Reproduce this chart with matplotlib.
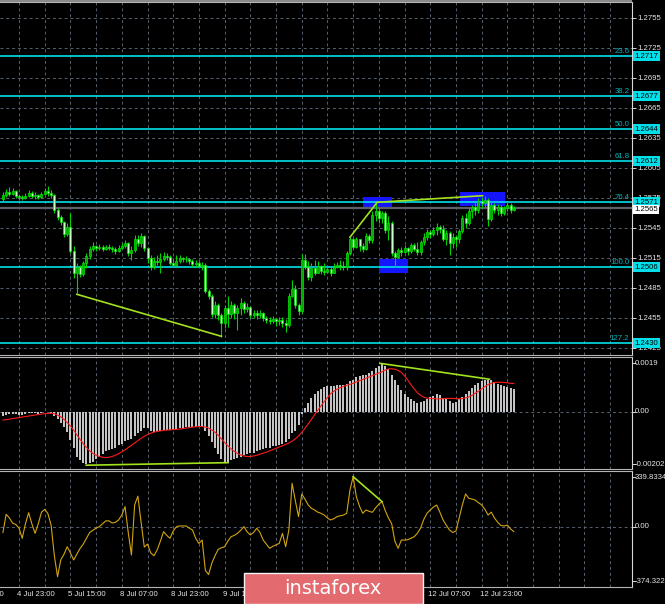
import matplotlib
matplotlib.use('Agg')
import matplotlib.pyplot as plt
import matplotlib.transforms as mtransforms
from matplotlib.patches import Rectangle
import numpy as np

BASE = 1.2400   # les prix sont notés en pips au-dessus de 1.2400

# bougies H1 (pips au-dessus de BASE)
opens = [174,178,181,179,182,177,176,175,177,180, 177,178,176,179,182,180,178,163,156,151,
         139,146,122,100,106,99,110,117,124,127, 125,126,124,126,125,124,122,125,127,130,
         120,123,134,130,137,125,115,106,112,111, 114,117,116,110,108,112,115,114,114,112,
         109,110,107,108,82,77,59,68,58,50, 65,59,68,60,65,70,64,66,58,60,
         58,60,55,53,52,54,52,53,50,48, 77,84,68,62,113,106,96,105,100,107,
         102,101,104,100,106,108,107,106,120,134, 126,134,127,124,137,133,158,162,155,160,
         143,150,120,116,123,121,125,122,128,124, 121,131,136,141,139,143,146,144,134,140,
         130,136,134,142,155,150,162,166,163,172, 170,173,154,168,163,166,160,165,168,163]
closes = [178,181,179,182,177,176,175,177,180,177, 178,176,179,182,180,178,163,156,151,139,
          146,122,100,106,99,110,117,124,127,125, 126,124,126,125,124,122,125,127,130,120,
          123,134,130,137,125,115,106,112,111,114, 117,116,110,108,112,115,114,114,112,109,
          110,107,108,82,77,59,68,58,50,65, 59,68,60,65,70,64,66,58,60,58,
          60,55,53,52,54,52,53,50,48,77, 84,68,62,113,106,96,105,100,107,102,
          101,104,100,106,108,107,106,120,134,126, 134,127,124,137,133,158,162,155,160,143,
          150,120,116,123,121,125,122,128,124,121, 131,136,141,139,143,146,144,134,140,130,
          136,134,142,155,150,162,166,163,172,170, 173,154,168,163,166,160,165,168,163,165]
highs = [181,184,186,185,183,179,178,180,183,182, 181,179,181,185,187,183,179,165,158,152,
         150,160,127,110,108,112,120,127,131,128, 129,128,128,129,127,126,128,130,133,131,
         127,138,138,140,138,126,118,116,118,120, 121,120,118,115,118,118,116,117,115,114,
         113,112,111,110,84,79,72,70,60,68, 77,72,70,68,75,72,70,67,63,63,
         63,61,57,56,57,55,56,56,54,80, 93,88,70,119,119,112,110,113,112,108,
         110,107,106,110,111,113,112,122,136,135, 136,134,130,140,139,162,171,165,162,162,
         157,152,122,125,126,128,126,130,130,131, 133,140,144,143,146,150,148,148,143,142,
         140,138,144,158,160,165,168,170,175,176, 177,175,172,170,169,168,167,172,170,167]
lows = [172,176,177,178,175,173,173,174,176,175, 174,174,175,178,177,175,160,153,148,136,
        137,120,95,80,96,97,105,114,122,122, 123,122,123,123,121,119,121,124,125,117,
        113,121,127,126,122,110,103,104,108,100, 112,113,108,106,107,110,111,111,109,106,
        106,105,103,80,74,56,55,53,36,45, 46,55,54,43,58,60,61,55,55,54,
        55,52,50,49,50,47,48,46,41,46, 76,65,58,60,104,93,92,98,100,99,
        98,100,97,100,105,103,103,103,118,124, 125,122,121,123,130,130,152,150,150,140,
        133,117,106,115,117,120,118,120,122,118, 118,128,133,135,137,138,140,132,128,118,
        125,126,130,140,145,148,155,158,160,165, 166,147,152,160,158,157,158,162,160,162]

# MACD (unités de 0.0001)
macd_hist = [-1.5,-1.2,-1.0,-0.8,-1.0,-1.2,-1.1,-0.9,-0.6,-0.7, -0.6,-0.8,-0.6,-0.3,-0.2,-0.4,-1.5,-3.0,-4.5,-6.0,
             -8.0,-11.0,-14.0,-17.5,-19.0,-20.0,-20.5,-20.0,-19.5,-18.5, -17.5,-16.5,-15.5,-15.0,-14.5,-14.0,-13.0,-12.5,-11.5,-11.0,
             -10.5,-9.5,-8.5,-7.5,-6.5,-6.5,-7.5,-8.0,-7.5,-7.5, -7.2,-7.0,-7.0,-7.0,-6.8,-6.5,-6.3,-6.0,-6.0,-5.8,
             -5.8,-5.6,-6.0,-7.5,-9.5,-12.0,-14.0,-16.5,-18.5,-19.5, -19.5,-19.0,-18.5,-18.0,-17.5,-17.0,-16.5,-16.0,-16.0,-15.5,
             -15.0,-14.5,-14.0,-14.0,-13.5,-13.5,-13.0,-12.5,-12.0,-10.5, -8.5,-7.5,-5.0,-1.0,1.5,3.5,5.5,7.0,8.0,9.0,
             9.5,10.0,10.0,10.0,10.5,10.5,10.5,11.0,12.0,12.5, 13.5,14.0,14.5,14.5,15.0,16.0,17.0,18.0,19.0,18.0,
             16.5,14.5,12.5,10.5,8.5,7.0,5.8,5.0,4.0,3.5, 3.6,4.2,5.0,5.6,6.1,6.8,6.5,5.5,4.8,4.2,
             3.5,3.8,4.8,5.9,6.8,8.1,9.1,10.4,11.3,12.0, 12.4,12.4,12.2,11.6,11.0,10.4,10.0,9.5,9.1,8.7]
macd_signal = [-3.3,-3.1,-2.9,-2.7,-2.5,-2.3,-2.1,-1.9,-1.7,-1.5, -1.3,-1.1,-0.9,-0.8,-0.7,-0.6,-0.8,-1.3,-2.0,-3.0,
               -4.2,-5.6,-7.2,-9.0,-10.8,-12.5,-14.0,-15.3,-16.3,-17.0, -17.5,-17.8,-17.9,-17.8,-17.5,-17.0,-16.4,-15.7,-14.9,-14.0,
               -13.1,-12.2,-11.3,-10.4,-9.6,-8.9,-8.4,-8.0,-7.7,-7.5, -7.3,-7.2,-7.1,-7.0,-6.9,-6.8,-6.6,-6.4,-6.2,-6.0,
               -5.9,-5.8,-5.8,-6.0,-6.4,-7.1,-8.0,-9.2,-10.6,-12.0, -13.3,-14.5,-15.5,-16.3,-16.9,-17.3,-17.5,-17.5,-17.3,-17.0,
               -16.6,-16.2,-15.8,-15.3,-14.8,-14.3,-13.8,-13.3,-12.8,-12.2, -11.5,-10.6,-9.5,-8.1,-6.5,-4.8,-3.0,-1.2,0.6,2.3,
               4.0,5.5,7.0,8.0,8.8,9.4,9.9,10.3,10.7,11.1, 11.6,12.1,12.6,13.1,13.6,14.1,14.6,15.1,15.6,16.3,
               16.7,16.8,16.6,16.1,15.4,14.0,12.4,10.6,8.9,7.4, 6.4,5.7,5.3,5.2,5.1,5.0,5.0,5.1,5.2,5.2,
               5.2,5.1,5.0,5.2,5.4,5.8,6.4,7.2,8.0,8.9, 9.8,10.6,11.1,11.4,11.5,11.5,11.4,11.3,11.1,11.0]

# CCI
cci = [-40,85,60,25,15,-10,-80,20,96,20, -46,20,100,119,90,10,-200,-344,-229,-190,
       -138,-180,-229,-190,-150,-120,-80,-40,-25,-10, 0,20,40,40,25,30,46,80,138,-40,
       -195,150,210,30,-140,-120,-180,-200,-160,-100, -34,-60,-80,-30,0,5,5,5,-10,-23,
       -80,-115,-92,-300,-330,-252,-200,-156,-145,-138, -100,-69,-60,-46,-25,0,-35,-57,-40,-11,
       -40,-92,-120,-149,-135,-125,-115,-46,-138,-23, 298,180,69,225,190,150,126,115,100,92,
       80,60,46,55,69,75,80,92,250,344, 206,140,92,115,105,99,130,155,172,110,
       60,20,-100,-149,-92,-92,-90,-80,-69,-45, -10,50,92,115,135,149,100,46,10,-23,
       -40,-30,60,150,225,195,190,183,165,150, 120,80,100,60,30,8,5,11,-15,-34]

time_labels = ['4 Jul 07:00', '4 Jul 23:00', '5 Jul 15:00', '8 Jul 07:00', '8 Jul 23:00', '9 Jul 15:00',
               '10 Jul 07:00', '10 Jul 23:00', '11 Jul 15:00', '12 Jul 07:00', '12 Jul 23:00']
label_bars = [-11, 5, 21, 37, 53, 69, 85, 101, 117, 133, 149]

price_ticks = [1.2755, 1.2725, 1.2695, 1.2665, 1.2635, 1.2605, 1.2575, 1.2545, 1.2515, 1.2485, 1.2455, 1.2425]
fib_names = ['23.6', '38.2', '50.0', '61.8', '76.4', '100.0', '127.2']
fib_prices = [1.2717, 1.2677, 1.2644, 1.2612, 1.2571, 1.2506, 1.2430]
bid = 1.2565

# lignes de divergence (barre, valeur)
div_price1 = ([23, 68], [79, 37])
div_price2 = ([108, 116.5, 149.3], [136, 171, 177.6])
div_macd1 = ([25.9, 70.1], [-20.9, -19.9])
div_macd2 = ([117.4, 151.4], [18.9, 12.7])
div_cci = ([109, 118], [344, 172])
# zones bleues (barre début, barre fin, pips bas, pips haut)
zones = [(112.2, 121.0, 164.6, 176), (117.2, 126.0, 100, 114), (142.3, 156.3, 167.6, 181)]

W, H = 665, 604
BG = 'black'
GRID = '#56626e'
TXT = '#e6e6e6'
CYAN = '#00e0ea'
GREENLINE = '#a2e21c'
FS = 5.6
plt.rcParams['font.family'] = ['Liberation Sans', 'DejaVu Sans']

fig = plt.figure(figsize=(W / 100, H / 100), dpi=100, facecolor=BG)

def box(x0, y0, x1, y1):
    return [x0 / W, 1 - y1 / H, (x1 - x0) / W, (y1 - y0) / H]

ax1 = fig.add_axes(box(0, 2, 632, 355))
ax2 = fig.add_axes(box(0, 357, 632, 469), sharex=ax1)
ax3 = fig.add_axes(box(0, 471, 632, 587), sharex=ax1)

idx = np.arange(len(closes))
o = BASE + np.array(opens) / 10000
c = BASE + np.array(closes) / 10000
h = BASE + np.array(highs) / 10000
l = BASE + np.array(lows) / 10000

for ax in (ax1, ax2, ax3):
    ax.set_facecolor(BG)
    for s in ('top', 'bottom'):
        ax.spines[s].set_color('#b4b4b4')
    ax.spines['left'].set_visible(False)
    ax.spines['right'].set_color('#d8d8d8')
    ax.tick_params(bottom=False, labelbottom=False, left=False, labelleft=False,
                   right=True, labelright=False, length=3, color='#d8d8d8', width=0.7)
    for k in range(24):
        ax.axvline(5 + 8 * k, color=GRID, lw=0.7, ls=(0, (3, 3)), zorder=0.5)

ax1.set_xlim(-0.915, 195.8)
ax1.set_ylim(1.24183, 1.27713)
ax2.set_ylim(-0.002238, 0.002137)
ax3.set_ylim(-415, 383)

# --- prix
for p in price_ticks:
    ax1.axhline(p, color=GRID, lw=0.7, ls=(0, (3, 3)), zorder=0.5)
ax1.set_yticks(price_ticks)
for x0, x1, y0, y1 in zones:
    ax1.add_patch(Rectangle((x0, BASE + y0 / 10000), x1 - x0, (y1 - y0) / 10000,
                            facecolor='#1414ff', edgecolor='none', zorder=1))
for fp in fib_prices:
    ax1.axhline(fp, color=CYAN, lw=1.2, zorder=2)
ax1.axhline(bid, color='#5c6168', lw=1.6, zorder=1.8)

bull = c >= o
ax1.vlines(idx, l, h, color='#00d400', lw=0.8, zorder=3)
body_h = np.maximum(np.abs(c - o), 0.00003)
ax1.bar(idx, body_h, bottom=np.minimum(o, c), width=0.62,
        color=np.where(bull, '#00a800', '#c8ffc4'), edgecolor='#00ea00', lw=0.5, zorder=4)

ax1.plot(np.array(div_price1[0]), BASE + np.array(div_price1[1]) / 10000, color=GREENLINE, lw=1.2, zorder=5)
ax1.plot(np.array(div_price2[0]), BASE + np.array(div_price2[1]) / 10000, color=GREENLINE, lw=1.2, zorder=5)

tr1 = mtransforms.blended_transform_factory(ax1.transAxes, ax1.transData)
for p in price_ticks:
    ax1.text(1.008, p, '%.4f' % p, transform=tr1, ha='left', va='center', fontsize=FS,
             color=TXT, clip_on=False, zorder=6)
for name, fp in zip(fib_names, fib_prices):
    ax1.text(0.996, fp + 0.00012, name, transform=tr1, ha='right', va='bottom', fontsize=FS,
             color='#00b4bc', zorder=6)
    ax1.text(1.004, fp, '%.4f' % fp, transform=tr1, ha='left', va='center', fontsize=FS,
             color='black', clip_on=False, zorder=8,
             bbox=dict(facecolor=CYAN, edgecolor='none', pad=1.1))
ax1.text(1.004, bid - 0.00008, '%.4f' % bid, transform=tr1, ha='left', va='center', fontsize=FS,
         color='black', clip_on=False, zorder=9,
         bbox=dict(facecolor='white', edgecolor='none', pad=0.8))

# --- MACD
hist = np.array(macd_hist) * 1e-4
sig = np.array(macd_signal) * 1e-4
ax2.axhline(0, color=GRID, lw=0.7, ls=(0, (3, 3)), zorder=0.5)
ax2.bar(idx, hist, width=0.62, color='#c4c4c4', zorder=2)
ax2.plot(idx, sig, color='#ff1a1a', lw=0.8, zorder=3)
ax2.plot(div_macd1[0], np.array(div_macd1[1]) * 1e-4, color=GREENLINE, lw=1.2, zorder=4)
ax2.plot(div_macd2[0], np.array(div_macd2[1]) * 1e-4, color=GREENLINE, lw=1.2, zorder=4)
macd_ticks = [0.0019, 0.0, -0.00205]
ax2.set_yticks(macd_ticks)
tr2 = mtransforms.blended_transform_factory(ax2.transAxes, ax2.transData)
for v, s in zip(macd_ticks, ['0.0019', '0.00', '-0.00202']):
    ax2.text(1.004, v, s, transform=tr2, ha='left', va='center', fontsize=FS, color=TXT, clip_on=False)

# --- CCI
ax3.axhline(0, color=GRID, lw=0.7, ls=(0, (3, 3)), zorder=0.5)
ax3.plot(idx, cci, color='#d2a410', lw=0.8, zorder=3)
ax3.plot(*div_cci, color=GREENLINE, lw=1.2, zorder=4)
cci_ticks = [339.8334, 0.0, -374.322]
ax3.set_yticks(cci_ticks)
tr3 = mtransforms.blended_transform_factory(ax3.transAxes, ax3.transData)
for v, s in zip(cci_ticks, ['339.8334', '0.00', '-374.322']):
    ax3.text(1.004, v, s, transform=tr3, ha='left', va='center', fontsize=FS, color=TXT, clip_on=False)

trx = mtransforms.blended_transform_factory(ax3.transData, ax3.transAxes)
for b, s in zip(label_bars, time_labels):
    ax3.text(b - 0.6, -0.035, s, transform=trx, ha='left', va='top', fontsize=FS,
             color=TXT, clip_on=False)

# bandeau du haut
fig.add_artist(Rectangle((0, 1 - 2 / H), 632 / W, 2 / H, transform=fig.transFigure,
                         facecolor='#8a8a8a', edgecolor='none'))

# logo
fig.add_artist(Rectangle((244 / W, 0), (423 - 244) / W, (604 - 572.5) / H, transform=fig.transFigure,
                         facecolor='#e36b6f', edgecolor='#f4f4f4', lw=1, zorder=20))
fig.text(333 / W, 1 - 588.5 / H, 'instaforex', color='white', fontsize=14, ha='center', va='center',
         family='DejaVu Sans', zorder=21)

fig.savefig('out.png', dpi=100, facecolor=BG)
